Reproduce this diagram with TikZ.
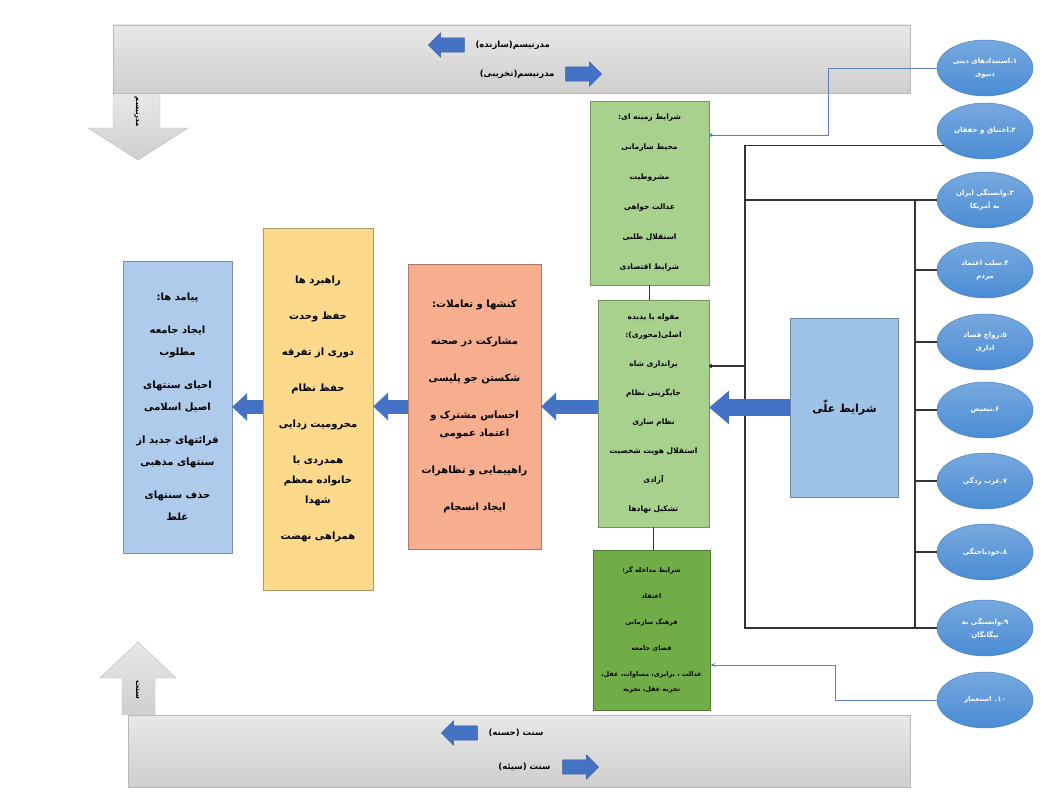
\documentclass[tikz,border=0pt]{standalone}
\usepackage{fontspec}
\newfontfamily\farsi[Script=Arabic]{DejaVu Sans}
\TeXXeTstate=1
\usetikzlibrary{arrows.meta,shapes.geometric,shapes.arrows}
\newcommand{\rl}[1]{\beginR#1\endR}
\definecolor{consblue}{HTML}{AFCBEC}
\definecolor{stratyel}{HTML}{FDD98C}
\definecolor{interor}{HTML}{F7AE8E}
\definecolor{ctxgreen}{HTML}{A9D18E}
\definecolor{intgreen}{HTML}{70AD47}
\definecolor{causblue}{HTML}{9DC3E6}
\definecolor{ellblue}{HTML}{4A8CD4}
\definecolor{arrblue}{HTML}{4472C4}
\definecolor{linkblue}{HTML}{5E7EC2}
\begin{document}
\begin{tikzpicture}[x=1pt,y=-1pt]
\tikzset{
  box/.style={draw=#1!70!black, fill=#1, align=center, inner sep=0pt, font=\farsi\bfseries},
  oval/.style={ellipse, draw=ellblue!85!black, top color=ellblue!75, bottom color=ellblue, minimum width=96, minimum height=56, inner sep=0pt, align=center, text=white, font=\farsi\bfseries\fontsize{7}{13}\selectfont},
  trunk/.style={draw=black!80, line width=1.1pt},
  link/.style={draw=linkblue, line width=0.9pt},
  blockarr/.style={draw=arrblue, line width=14pt, -{Triangle[width=28pt,length=15pt,line width=0pt]}},
  bandarr/.style={single arrow, fill=arrblue, draw=arrblue!80!black, minimum height=36, inner sep=7pt, single arrow head extend=5pt},
  bandtext/.style={font=\farsi\bfseries\fontsize{8.5}{10}\selectfont},
  band/.style={draw=gray!55, top color=gray!18, bottom color=gray!38}
}
\useasboundingbox (0,0) rectangle (1046,810);
%% Bands
\draw[band] (113,93) -- (113,128) -- (88,128) -- (138,160) -- (188,128) -- (160,128) -- (160,93);
\draw[band] (113,25) rectangle (910,93);
\draw[band] (122,715) -- (122,678) -- (100,678) -- (138,642) -- (176,678) -- (155,678) -- (155,715);
\draw[band] (128,715) rectangle (910,787);
\node[bandtext, rotate=-90, font=\farsi\bfseries\fontsize{7}{8}\selectfont] (modv) at (137,112) {\rl{مدرنیسم}};
\node[bandtext, rotate=-90, font=\farsi\bfseries\fontsize{8}{9}\selectfont] (sunv) at (138,690) {\rl{سنت}};
\node[bandarr, shape border rotate=180] (ma1) at (450,45) {};
\node[bandtext, anchor=west] (mt1) at (472,45) {\rl{مدرنیسم(سازنده)}};
\node[bandarr] (ma2) at (580,74) {};
\node[bandtext, anchor=east] (mt2) at (558,74) {\rl{مدرنیسم(تخریبی)}};
\node[bandarr, shape border rotate=180] (sa1) at (463,733) {};
\node[bandtext, anchor=west] (st1) at (485,733) {\rl{سنت (حسنه)}};
\node[bandarr] (sa2) at (577,767) {};
\node[bandtext, anchor=east] (st2) at (554,767) {\rl{سنت (سیئه)}};
%% Boxes
\node[box=consblue, minimum width=109, minimum height=292, font=\farsi\bfseries\fontsize{10}{22}\selectfont] (cons) at (177.5,407) {%
  \rl{پیامد ها:}\\[11pt]\rl{ایجاد جامعه}\\\rl{مطلوب}\\[11pt]\rl{احیای سنتهای}\\\rl{اصیل اسلامی}\\[11pt]%
  \rl{قرائتهای جدید از}\\\rl{سنتهای مذهبی}\\[11pt]\rl{حذف سنتهای}\\\rl{غلط}};
\node[box=stratyel, minimum width=110, minimum height=362, font=\farsi\bfseries\fontsize{10}{20}\selectfont] (strat) at (318,409) {%
  \rl{راهبرد ها}\\[16pt]\rl{حفظ وحدت}\\[16pt]\rl{دوری از تفرقه}\\[16pt]\rl{حفظ نظام}\\[16pt]\rl{محرومیت زدایی}\\[16pt]%
  \rl{همدردی با}\\\rl{خانواده معظم}\\\rl{شهدا}\\[16pt]\rl{همراهی نهضت}};
\node[box=interor, minimum width=133, minimum height=285, font=\farsi\bfseries\fontsize{10}{18}\selectfont] (inter) at (474.5,406.5) {%
  \rl{کنشها و تعاملات:}\\[19pt]\rl{مشارکت در صحنه}\\[19pt]\rl{شکستن جو پلیسی}\\[19pt]%
  \rl{احساس مشترک و}\\\rl{اعتماد عمومی}\\[19pt]\rl{راهپیمایی و تظاهرات}\\[19pt]\rl{ایجاد انسجام}};
\node[box=ctxgreen, minimum width=119, minimum height=184, font=\farsi\bfseries\fontsize{7.5}{30}\selectfont] (context) at (649.5,193) {%
  \rl{شرایط زمینه ای:}\\\rl{محیط سازمانی}\\\rl{مشروطیت}\\\rl{عدالت خواهی}\\\rl{استقلال طلبی}\\\rl{شرایط اقتصادی}};
\node[box=ctxgreen, minimum width=111, minimum height=227, font=\farsi\bfseries\fontsize{7.5}{18}\selectfont] (phen) at (653.5,413.5) {%
  \rl{مقوله یا پدیده}\\\rl{اصلی(محوری):}\\[11pt]\rl{براندازی شاه}\\[11pt]\rl{جایگزینی نظام}\\[11pt]\rl{نظام سازی}\\[11pt]%
  \rl{استقلال هویت شخصیت}\\[11pt]\rl{آزادی}\\[11pt]\rl{تشکیل نهادها}};
\node[box=intgreen, minimum width=117, minimum height=160, font=\farsi\bfseries\fontsize{6.5}{15}\selectfont] (interv) at (651.5,630) {%
  \rl{شرایط مداخله گر:}\\[11pt]\rl{اعتقاد}\\[11pt]\rl{فرهنگ سازمانی}\\[11pt]\rl{فضای جامعه}\\[11pt]%
  \rl{عدالت ، برابری، مساوات، عقل،}\\\rl{تجربه عقل، تجربه}};
\node[box=causblue, minimum width=108, minimum height=179, font=\farsi\bfseries\fontsize{11}{13}\selectfont] (causal) at (844.5,407.5) {\rl{شرایط علّی}};
%% Causes
\node[oval] (e1) at (985,68) {\rl{۱.استبدادهای دینی}\\\rl{دنیوی}};
\node[oval] (e2) at (985,131) {\rl{۲.اختناق و خفقان}};
\node[oval] (e3) at (985,200) {\rl{۳.وابستگی ایران}\\\rl{به آمریکا}};
\node[oval] (e4) at (985,270) {\rl{۴.سلب اعتماد}\\\rl{مردم}};
\node[oval] (e5) at (985,342) {\rl{۵.رواج فساد}\\\rl{اداری}};
\node[oval] (e6) at (985,410) {\rl{۶.تبعیض}};
\node[oval] (e7) at (985,481) {\rl{۷.غرب زدگی}};
\node[oval] (e8) at (985,552) {\rl{۸.خودباختگی}};
\node[oval] (e9) at (985,628) {\rl{۹.وابستگی به}\\\rl{بیگانگان}};
\node[oval] (e10) at (985,700) {\rl{۱۰. استعمار}};
%% Connectors
\coordinate (lt) at (745,0);
\coordinate (rt) at (915,0);
\coordinate (fd) at (745,366);
\coordinate (bk1) at (828,135);
\coordinate (bk2) at (835,665);
\draw[trunk] (e2.200) -- (e2.200 -| lt) -- (e9.west -| lt) -- (e9.west);
\draw[trunk] (e3.west -| lt) -- (e3.west);
\draw[trunk] (e3.west -| rt) -- (e9.west -| rt);
\foreach \e in {e4,e5,e6,e7,e8}
  \draw[trunk] (\e.west -| rt) -- (\e.west);
\draw[trunk, -{Circle[length=4pt]}] (fd) -- (fd -| phen.east);
\draw[trunk] (context.south) -- (context.south |- phen.north);
\draw[trunk] (phen.south) -- (phen.south |- interv.north);
\draw[link, -{Circle[length=3.5pt]}] (e1.west) -- (e1.west -| bk1) -- (bk1) -- (bk1 -| context.east);
\draw[link, -{Stealth[length=5pt]}] (e10.west) -- (e10.west -| bk2) -- (bk2) -- (bk2 -| interv.east);
\draw[blockarr, line width=17pt, -{Triangle[width=34pt,length=20pt,line width=0pt]}] (causal.west) -- (causal.west -| phen.east);
\draw[blockarr] (inter.east -| phen.west) -- (inter.east);
\draw[blockarr] (inter.west) -- (inter.west -| strat.east);
\draw[blockarr] (strat.west |- cons.east) -- (cons.east);
\end{tikzpicture}
\end{document}
